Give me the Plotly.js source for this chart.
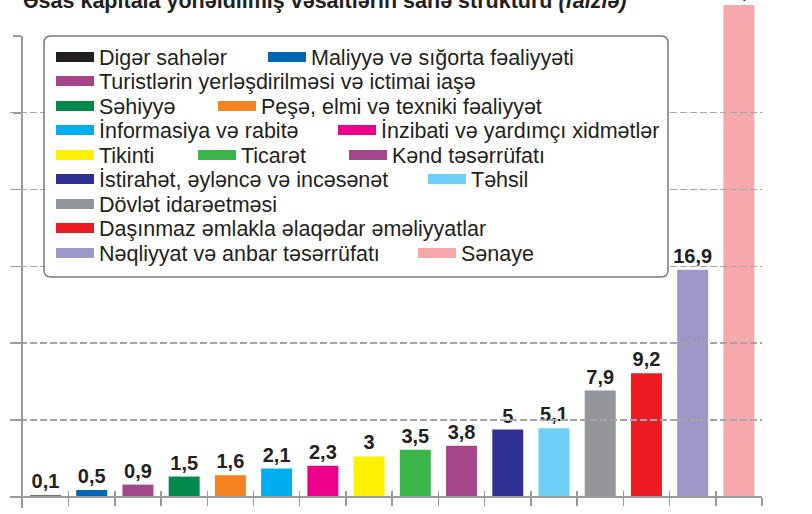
<!DOCTYPE html>
<html>
<head>
<meta charset="utf-8">
<script src="https://cdn.plot.ly/plotly-3.0.1.min.js"></script>
<style>
  html, body { margin: 0; padding: 0; background: #ffffff; }
  #chart { width: 812px; height: 514px; }
</style>
</head>
<body>
<div id="chart"></div>
<script>
// ---------- data ----------
const categories = [
  'Digər sahələr',
  'Maliyyə və sığorta fəaliyyəti',
  'Turistlərin yerləşdirilməsi və ictimai iaşə',
  'Səhiyyə',
  'Peşə, elmi və texniki fəaliyyət',
  'İnformasiya və rabitə',
  'İnzibati və yardımçı xidmətlər',
  'Tikinti',
  'Ticarət',
  'Kənd təsərrüfatı',
  'İstirahət, əyləncə və incəsənət',
  'Təhsil',
  'Dövlət idarəetməsi',
  'Daşınmaz əmlakla əlaqədar əməliyyatlar',
  'Nəqliyyat və anbar təsərrüfatı',
  'Sənaye'
];
const values = [0.1, 0.5, 0.9, 1.5, 1.6, 2.1, 2.3, 3, 3.5, 3.8, 5, 5.1, 7.9, 9.2, 16.9, 36.6];
const colors = [
  '#231f20', '#0066b3', '#a3468a', '#00894a', '#f58220', '#00aeef', '#ec008c', '#fff200',
  '#39b54a', '#a3468a', '#2e3192', '#6dcff6', '#939598', '#ed1c24', '#9d97c7', '#f6a8ab'
];
const valueLabels = values.map(v => String(v).replace('.', ','));
const titleText = 'Əsas kapitala yönəldilmiş vəsaitlərin sahə strukturu <i>(faizlə)</i>';

// ---------- layout helpers (positions, not data) ----------
const W = 812, H = 514;
const M = { l: 10, r: 50, t: 0, b: 6, autoexpand: false };
const PW = W - M.l - M.r, PH = H - M.t - M.b;      // plot area 10..762 x 0..508
const AXIS_TOP_PX = 36;                              // where the drawn value axis starts
const xRange = [-0.768, 15.5];
const yBarRange = [-0.841, 36.98];                   // full plot height (bars may rise above the axis)
const yAxisRange = [-0.841, 34.30];                  // the visible value axis 36..508 px
const axisDomainTop = (PH - (AXIS_TOP_PX - M.t)) / PH;
const gridStep = yAxisRange[1] / 6;
const gridVals = [1, 2, 3, 4, 5, 6].map(k => k * gridStep);
const FONT = 'Liberation Sans, Arial, Helvetica, sans-serif';
const INK = '#231f20';
const AXIS = '#9a9a9a';

// legend slot for each entry: [swatch left px, row centre px]
const legendSlots = [
  [58, 57], [270, 57],
  [58, 81],
  [58, 106], [220, 106],
  [58, 130], [340, 130],
  [58, 155], [200, 155], [351, 155],
  [58, 179], [430, 179],
  [58, 204],
  [58, 228],
  [58, 253], [420, 253]
];
const legendBox = [44, 36, 668, 277];

function toPaper(px, py) {
  return [(px - M.l) / PW, (H - M.b - py) / PH];
}
function roundedBoxPath(x0, y0, x1, y1, r) {
  const pts = [
    ['M', [x0 + r, y0]], ['L', [x1 - r, y0]], ['Q', [x1, y0], [x1, y0 + r]],
    ['L', [x1, y1 - r]], ['Q', [x1, y1], [x1 - r, y1]], ['L', [x0 + r, y1]],
    ['Q', [x0, y1], [x0, y1 - r]], ['L', [x0, y0 + r]], ['Q', [x0, y0], [x0 + r, y0]]
  ];
  return pts.map(seg => seg[0] + ' ' + seg.slice(1).map(p => toPaper(p[0], p[1]).join(',')).join(' ')).join(' ') + ' Z';
}

const baselinePos = (0 - yBarRange[0]) / (yBarRange[1] - yBarRange[0]);   // paper y of value 0
const yAxisPos = (-0.5 - xRange[0]) / (xRange[1] - xRange[0]);
const boundaries = categories.map((_, i) => i - 0.5).concat([categories.length - 0.5]);

// ---------- traces ----------
const traces = [{
  type: 'bar',
  x: categories,
  y: values,
  xaxis: 'x', yaxis: 'y',
  marker: { color: colors, line: { width: 0 } },
  text: valueLabels,
  textposition: 'outside',
  constraintext: 'none',
  textfont: { family: FONT, size: 20, color: INK, weight: 'bold' },
  cliponaxis: false,
  showlegend: false,
  hoverinfo: 'x+y'
}];

const legends = {};
categories.forEach((name, i) => {
  const id = i === 0 ? 'legend' : 'legend' + (i + 1);
  traces.push({
    type: 'scatter',
    mode: 'lines',
    x: [null], y: [null],
    xaxis: 'x2', yaxis: 'y2',
    name: name,
    line: { color: colors[i], width: 12 },
    legend: id,
    hoverinfo: 'skip'
  });
  const slot = legendSlots[i];
  legends[id] = {
    xref: 'container', yref: 'container',
    x: (slot[0] - 7) / W,
    y: 1 - slot[1] / H,
    xanchor: 'left', yanchor: 'middle',
    orientation: 'h',
    bgcolor: 'rgba(0,0,0,0)',
    borderwidth: 0,
    itemwidth: 38,
    font: { family: FONT, size: 21.5, color: INK }
  };
});

const layout = Object.assign({
  width: W, height: H,
  margin: M,
  paper_bgcolor: '#ffffff',
  plot_bgcolor: 'rgba(0,0,0,0)',
  bargap: 0.33,
  showlegend: true,
  title: {
    text: titleText,
    xref: 'container', yref: 'container',
    x: 23 / W, xanchor: 'left',
    y: 1, yanchor: 'middle',
    font: { family: FONT, size: 21.5, color: INK, weight: 'bold' }
  },
  // bar subplot: full height, only the upper halves of the category ticks are drawn
  xaxis: {
    type: 'category',
    range: xRange,
    anchor: 'free', position: baselinePos,
    showline: false,
    tickson: 'boundaries',
    ticks: 'inside', ticklen: 6, tickwidth: 1.5, tickcolor: AXIS,
    showticklabels: false,
    showgrid: false, zeroline: false,
    fixedrange: true
  },
  yaxis: {
    range: yBarRange,
    visible: false,
    fixedrange: true
  },
  // axis subplot: baseline, value axis, dashed grid (drawn over the bars)
  xaxis2: {
    range: xRange,
    anchor: 'free', position: baselinePos,
    showline: true, linecolor: AXIS, linewidth: 2,
    tickmode: 'array', tickvals: boundaries,
    ticks: 'outside', ticklen: 8, tickwidth: 1.5, tickcolor: AXIS,
    showticklabels: false, showgrid: false, zeroline: false,
    fixedrange: true
  },
  yaxis2: {
    domain: [0, axisDomainTop],
    range: yAxisRange,
    anchor: 'free', position: yAxisPos,
    showline: true, linecolor: AXIS, linewidth: 2,
    tickmode: 'array', tickvals: gridVals,
    ticks: 'outside', ticklen: 8, tickwidth: 1.5, tickcolor: AXIS,
    showticklabels: false,
    showgrid: true, gridcolor: '#a5a5a5', gridwidth: 1.3, griddash: '7px,3px',
    zeroline: false,
    fixedrange: true
  },
  shapes: [{
    type: 'path',
    xref: 'paper', yref: 'paper',
    path: roundedBoxPath(legendBox[0], legendBox[1], legendBox[2], legendBox[3], 7),
    line: { color: '#7a7a7a', width: 1.5 },
    fillcolor: '#ffffff',
    layer: 'above'
  }]
}, legends);

Plotly.newPlot('chart', traces, layout, { displayModeBar: false, staticPlot: true });
</script>
</body>
</html>
